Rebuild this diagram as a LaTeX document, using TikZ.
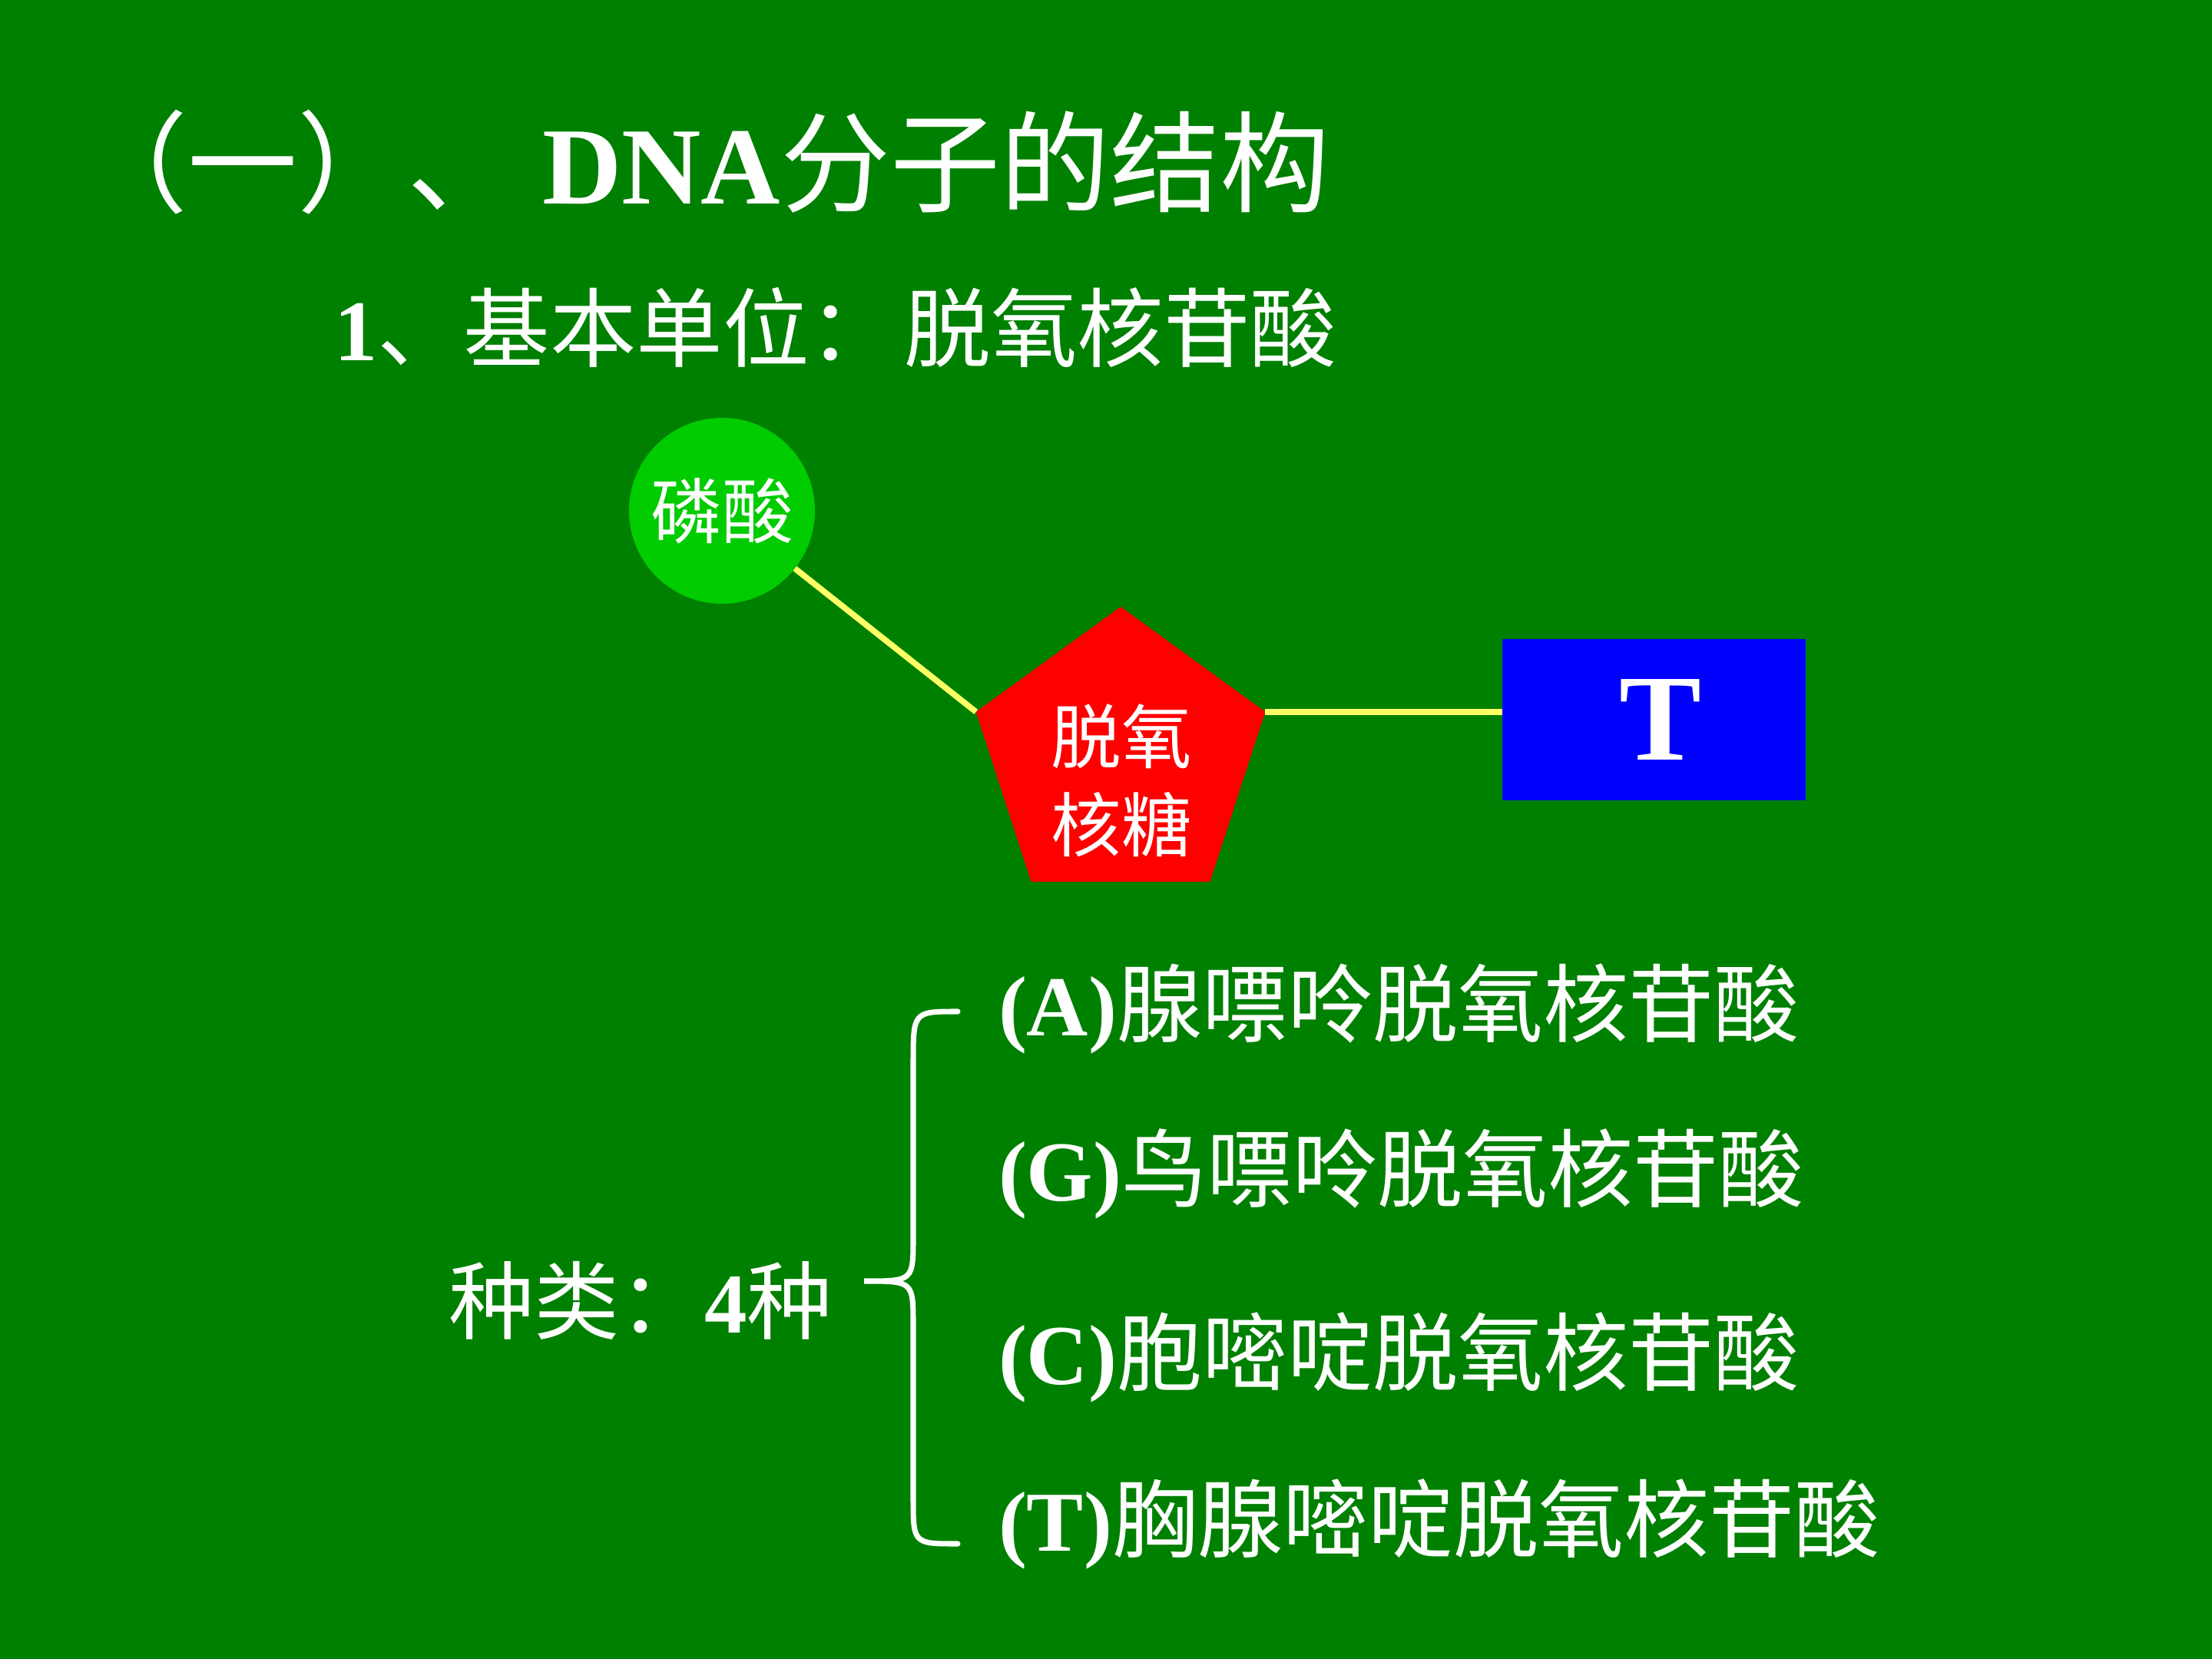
\documentclass[tikz,border=0pt]{standalone}
\usepackage{fontspec}
\setmainfont{Liberation Serif}
\newfontfamily\cjk{Noto Sans CJK SC}
\usepackage{xcolor}
\usetikzlibrary{shapes.geometric}
\definecolor{slidegreen}{RGB}{0,128,0}
\definecolor{phosgreen}{RGB}{0,204,0}
\definecolor{bondyellow}{RGB}{255,255,102}
\definecolor{baseblue}{RGB}{0,0,255}
\newcommand{\zh}[1]{{\cjk\mdseries #1}}
\tikzset{
  every node/.style={text=white, inner sep=0pt, outer sep=0pt},
  heading/.style={anchor=west, font=\fontsize{40.7}{48}\selectfont\bfseries},
  subhead/.style={anchor=west, font=\fontsize{32}{38}\selectfont\bfseries},
  kind/.style={anchor=west, font=\fontsize{31.6}{38}\selectfont\bfseries},
  bond/.style={draw=bondyellow, line width=2.2pt},
}

\begin{document}
\begin{tikzpicture}
\useasboundingbox (0,0) rectangle (28.8,-21.6);
\fill[slidegreen] (0,0) rectangle (28.8,-21.6);

\node[heading] (title) at (1.01,-2.11) {\zh{（一）、}\hspace{0.33cm}DNA\zh{分子的结构}};
\node[subhead] (unit) at (4.35,-4.26) {1\zh{、基本单位：}\hspace{0.12cm}\zh{脱氧核苷酸}};

% nucleotide
\node[circle, fill=phosgreen, minimum size=2.42cm, font=\fontsize{26.4}{32}\selectfont] (phos) at (9.40,-6.65) {\zh{磷酸}};
\node[regular polygon, regular polygon sides=5, fill=red, minimum size=3.96cm] (sugar) at (14.59,-9.88) {};
\node[align=center, font=\fontsize{26}{32.7}\selectfont] (sugartxt) at (14.60,-10.16) {\zh{脱氧}\\\zh{核糖}};
\node[rectangle, fill=baseblue, minimum width=3.95cm, minimum height=2.10cm, font=\fontsize{45.6}{50}\selectfont\bfseries] (tbox) at (21.53,-9.37) {\hspace{0.18cm}T};

\draw[bond] (phos) -- (sugar.corner 2);
\draw[bond] (sugar.corner 5) -- (sugar.corner 5 -| tbox.west);

% four kinds
\node[subhead, font=\fontsize{31.6}{38}\selectfont\bfseries] (sort) at (5.84,-16.93) {\zh{种类：}4\zh{种}};
\node[kind] (kA) at (13.00,-13.13) {(A)\zh{腺嘌呤脱氧核苷酸}};
\node[kind] (kG) at (13.00,-15.28) {(G)\zh{鸟嘌呤脱氧核苷酸}};
\node[kind] (kC) at (13.00,-17.67) {(C)\zh{胞嘧啶脱氧核苷酸}};
\node[kind] (kT) at (13.00,-19.84) {(T)\zh{胸腺嘧啶脱氧核苷酸}};

\draw[white, line width=2pt, line cap=round]
  (12.47,-13.17) .. controls (11.89,-13.17) .. (11.89,-13.85) -- (11.89,-16.10)
  .. controls (11.89,-16.68) .. (11.25,-16.68)
  .. controls (11.89,-16.68) .. (11.89,-17.26) -- (11.89,-19.50)
  .. controls (11.89,-20.10) .. (12.47,-20.10);
\end{tikzpicture}
\end{document}
